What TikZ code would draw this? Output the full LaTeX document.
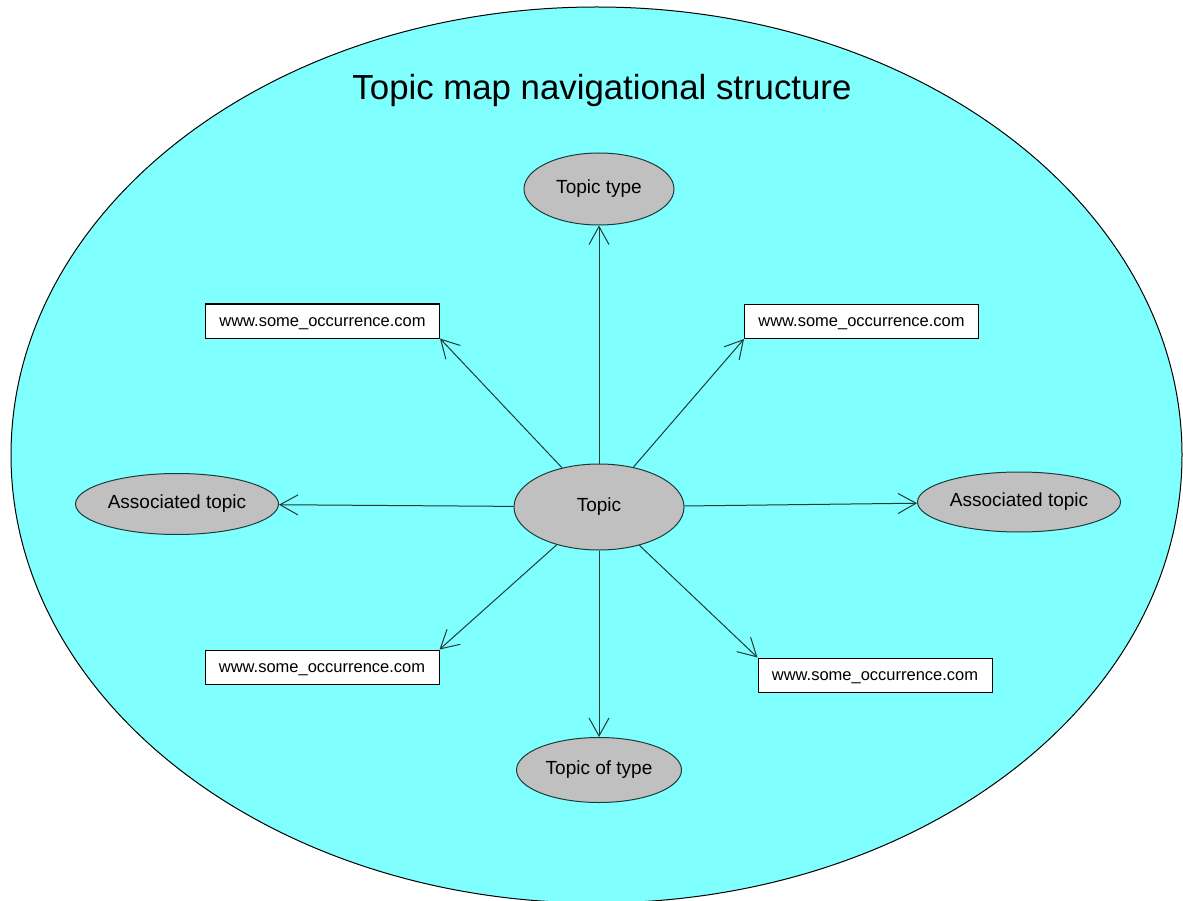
\documentclass[tikz,border=0pt]{standalone}
\usepackage{fontspec}
\setmainfont{Liberation Sans}
\usetikzlibrary{shapes.geometric,arrows.meta}
\definecolor{bgcyan}{HTML}{80FFFF}
\definecolor{topicgray}{HTML}{C0C0C0}
\definecolor{linecol}{HTML}{1E3A3A}
\tikzset{
  topicnode/.style={ellipse, draw=linecol, line width=1pt, fill=topicgray, inner sep=0pt, font=\fontsize{19}{22}\selectfont},
  occbox/.style={rectangle, draw=black, line width=1pt, fill=white, inner sep=0pt, minimum width=234pt, minimum height=34pt, text height=12pt, text depth=2pt, font=\fontsize{16.5}{19}\selectfont},
  link/.style={draw=linecol, line width=1pt, -{Straight Barb[length=18pt,width=20pt,line width=1pt]}},
}
\begin{document}
\begin{tikzpicture}[x=1pt,y=-1pt]
\useasboundingbox (0,0) rectangle (1183,901);
\fill[white] (0,0) rectangle (1183,901);
\draw[fill=bgcyan, draw=black, line width=1pt] (596.5,455) ellipse [x radius=585.5, y radius=448];
\node[font=\fontsize{34.8}{40}\selectfont] (title) at (602,91) {Topic map navigational structure};
\node[topicnode, minimum width=170pt, minimum height=86pt] (topic) at (599,507) {Topic};
\node[topicnode, minimum width=150pt, minimum height=72pt] (ttype) at (599,189) {Topic type};
\node[topicnode, minimum width=165pt, minimum height=65pt] (toftype) at (599,770) {Topic of type};
\node[topicnode, minimum width=203pt, minimum height=61pt] (assocL) at (177,504) {Associated topic};
\node[topicnode, minimum width=203pt, minimum height=60pt] (assocR) at (1019,502) {Associated topic};
\node[occbox] (occTL) at (322.5,321) {www.some\_occurrence.com};
\node[occbox] (occTR) at (861.5,321.5) {www.some\_occurrence.com};
\node[occbox] (occBL) at (322,667) {www.some\_occurrence.com};
\node[occbox] (occBR) at (875,675) {www.some\_occurrence.com};
\draw[link] (topic) -- (ttype);
\draw[link] (topic) -- (toftype);
\draw[link] (topic) -- (assocL);
\draw[link] (topic) -- (assocR);
\draw[link] (topic) -- (occTL.south east);
\draw[link] (topic) -- (occTR.south west);
\draw[link] (topic) -- (occBL.north east);
\draw[link] (topic) -- (occBR.north west);
\end{tikzpicture}
\end{document}
